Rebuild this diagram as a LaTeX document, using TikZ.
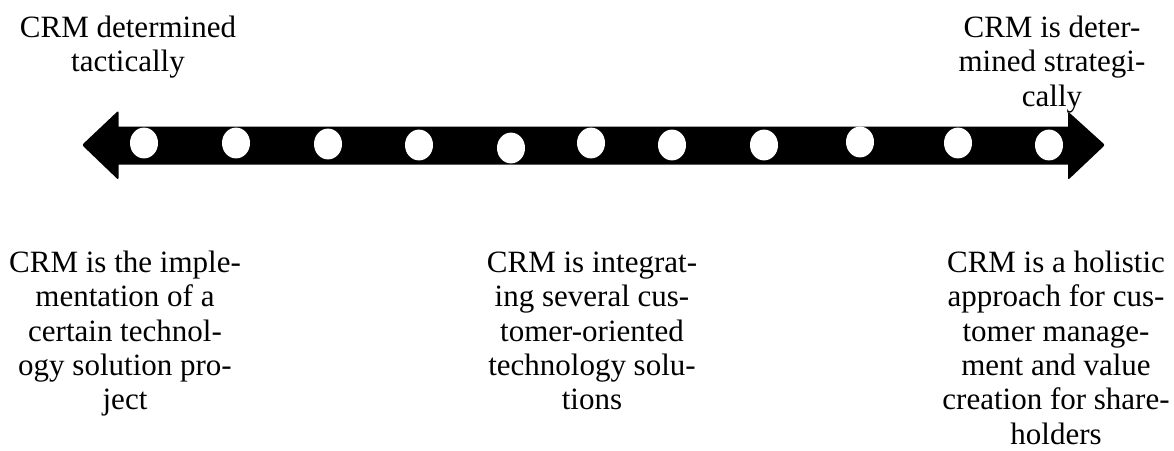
\documentclass[tikz,border=0pt]{standalone}
\usepackage{fontspec}
\setmainfont{Liberation Serif}
\begin{document}
\begin{tikzpicture}[x=1pt,y=-1pt,
  txt/.style={align=center, inner sep=0pt, anchor=north,
              font=\fontsize{31}{34.4}\selectfont},
  hole/.style={fill=white, draw=none, shape=circle, inner sep=0pt,
               minimum size=28pt, yscale=1.1}]
\useasboundingbox (0,0) rectangle (1174,450);

% double-headed scale arrow
\fill (118.5,126.5) [rounded corners=2pt] -- (118.5,110.5) -- (82,145)
  -- (118.5,180) [sharp corners] -- (118.5,164.5) -- (1068,164.5)
  [rounded corners=2pt] -- (1068,180) -- (1105,145) -- (1068,111.5)
  [sharp corners] -- (1068,126.5) -- cycle;

% white markers along the scale
\node[hole] (d1)  at (144,143) {};
\node[hole] (d2)  at (236,143) {};
\node[hole] (d3)  at (328,144) {};
\node[hole] (d4)  at (419,145) {};
\node[hole] (d5)  at (511,148) {};
\node[hole] (d6)  at (591,143) {};
\node[hole] (d7)  at (672,145) {};
\node[hole] (d8)  at (764,145) {};
\node[hole] (d9)  at (860,142) {};
\node[hole] (d10) at (958,143) {};
\node[hole] (d11) at (1049,145) {};

% end labels
\node[txt] (tl) at (128,13) {\strut CRM determined\\tactically};
\node[txt] (tr) at (1052,13) {\strut CRM is deter-\\mined strategi-\\cally};

% descriptions below the scale
\node[txt] (bl) at (125,248) {\strut CRM is the imple-\\mentation of a\\certain technol-\\ogy solution pro-\\ject};
\node[txt] (bm) at (592,248) {\strut CRM is integrat-\\ing several cus-\\tomer-oriented\\technology solu-\\tions};
\node[txt] (br) at (1056,248) {\strut CRM is a holistic\\approach for cus-\\tomer manage-\\ment and value\\creation for share-\\holders};
\end{tikzpicture}
\end{document}
